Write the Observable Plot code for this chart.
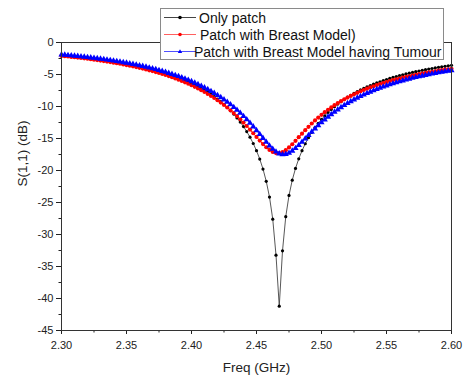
<!DOCTYPE html>
<html>
<head>
<meta charset="utf-8">
<script src="https://cdn.jsdelivr.net/npm/d3@7"></script>
<script src="https://cdn.jsdelivr.net/npm/@observablehq/plot@0.6"></script>
<style>
  body { margin: 0; background: #fff; }
  #wrap { position: relative; width: 463px; height: 376px; font-family: "Liberation Sans", Arial, sans-serif; }
  #legend { position: absolute; left: 160px; top: 8px; width: 284px; height: 52px; box-sizing: border-box;
            border: 1px solid #8a8a8a; background: #fff; }
  .row { position: absolute; left: 0; height: 17px; width: 100%; }
  .row svg { position: absolute; left: 2px; top: 0; }
  .row span { position: absolute; top: 1px; line-height: 17px; font-size: 14px; color: #111; white-space: nowrap; }
</style>
</head>
<body>
<div id="wrap"><div id="chart"></div><div id="legend"></div></div>
<script>
const freq = [2.3,2.3025,2.305,2.3075,2.31,2.3125,2.315,2.3175,2.32,2.3225,2.325,2.3275,2.33,2.3325,2.335,2.3375,2.34,2.3425,2.345,2.3475,
2.35,2.3525,2.355,2.3575,2.36,2.3625,2.365,2.3675,2.37,2.3725,2.375,2.3775,2.38,2.3825,2.385,2.3875,2.39,2.3925,2.395,2.3975,
2.4,2.4025,2.405,2.4075,2.41,2.4125,2.415,2.4175,2.42,2.4225,2.425,2.4275,2.43,2.4325,2.435,2.4375,2.44,2.4425,2.445,2.4475,
2.45,2.4525,2.455,2.4575,2.46,2.4625,2.465,2.4675,2.47,2.4725,2.475,2.4775,2.48,2.4825,2.485,2.4875,2.49,2.4925,2.495,2.4975,
2.5,2.5025,2.505,2.5075,2.51,2.5125,2.515,2.5175,2.52,2.5225,2.525,2.5275,2.53,2.5325,2.535,2.5375,2.54,2.5425,2.545,2.5475,
2.55,2.5525,2.555,2.5575,2.56,2.5625,2.565,2.5675,2.57,2.5725,2.575,2.5775,2.58,2.5825,2.585,2.5875,2.59,2.5925,2.595,2.5975,2.6];

const onlyPatch = [-2.01,-2.05,-2.10,-2.15,-2.20,-2.25,-2.31,-2.36,-2.42,-2.48,-2.55,-2.61,-2.68,-2.75,-2.82,-2.90,-2.98,-3.06,-3.14,-3.23,
-3.32,-3.42,-3.52,-3.62,-3.73,-3.85,-3.97,-4.09,-4.22,-4.36,-4.50,-4.65,-4.81,-4.97,-5.14,-5.32,-5.52,-5.72,-5.93,-6.15,
-6.38,-6.63,-6.89,-7.17,-7.47,-7.78,-8.11,-8.47,-8.84,-9.25,-9.68,-10.15,-10.65,-11.19,-11.78,-12.43,-13.14,-13.92,-14.80,-15.78,
-16.91,-18.22,-19.77,-21.69,-24.16,-27.61,-33.23,-41.2,-32.55,-27.21,-23.89,-21.51,-19.67,-18.17,-16.91,-15.82,-14.88,-14.04,-13.29,-12.62,
-12.01,-11.45,-10.93,-10.46,-10.02,-9.62,-9.24,-8.88,-8.55,-8.24,-7.95,-7.67,-7.41,-7.17,-6.94,-6.72,-6.51,-6.31,-6.13,-5.95,
-5.78,-5.62,-5.46,-5.32,-5.17,-5.04,-4.91,-4.79,-4.67,-4.56,-4.45,-4.35,-4.25,-4.15,-4.06,-3.97,-3.88,-3.80,-3.72,-3.65,-3.57];

const breastModel = [-2.09,-2.14,-2.19,-2.25,-2.30,-2.36,-2.42,-2.48,-2.54,-2.61,-2.68,-2.75,-2.82,-2.90,-2.98,-3.06,-3.15,-3.23,-3.32,-3.42,
-3.52,-3.62,-3.73,-3.84,-3.96,-4.08,-4.20,-4.34,-4.47,-4.62,-4.76,-4.92,-5.08,-5.25,-5.43,-5.61,-5.81,-6.01,-6.22,-6.44,
-6.68,-6.92,-7.18,-7.45,-7.73,-8.03,-8.34,-8.67,-9.02,-9.38,-9.76,-10.16,-10.59,-11.03,-11.50,-12.00,-12.51,-13.05,-13.61,-14.18,
-14.75,-15.32,-15.87,-16.37,-16.79,-17.10,-17.28,-17.29,-17.13,-16.82,-16.40,-15.90,-15.36,-14.80,-14.24,-13.70,-13.17,-12.66,-12.18,-11.73,
-11.30,-10.89,-10.51,-10.14,-9.80,-9.47,-9.17,-8.88,-8.60,-8.34,-8.09,-7.86,-7.63,-7.42,-7.22,-7.02,-6.84,-6.66,-6.49,-6.33,
-6.18,-6.03,-5.89,-5.75,-5.63,-5.50,-5.38,-5.27,-5.16,-5.05,-4.95,-4.85,-4.76,-4.66,-4.58,-4.49,-4.41,-4.33,-4.25,-4.18,-4.11];

const breastTumour = [-1.90,-1.94,-1.99,-2.04,-2.09,-2.14,-2.20,-2.25,-2.31,-2.37,-2.43,-2.49,-2.56,-2.63,-2.70,-2.78,-2.85,-2.93,-3.02,-3.10,
-3.19,-3.29,-3.39,-3.49,-3.59,-3.70,-3.82,-3.94,-4.06,-4.19,-4.33,-4.47,-4.62,-4.78,-4.94,-5.11,-5.28,-5.47,-5.67,-5.87,
-6.08,-6.31,-6.55,-6.79,-7.05,-7.33,-7.61,-7.92,-8.24,-8.57,-8.93,-9.30,-9.70,-10.12,-10.56,-11.02,-11.52,-12.03,-12.58,-13.14,
-13.73,-14.34,-14.95,-15.56,-16.14,-16.65,-17.08,-17.37,-17.50,-17.45,-17.26,-16.94,-16.53,-16.05,-15.54,-15.02,-14.49,-13.96,-13.46,-12.97,
-12.51,-12.06,-11.63,-11.23,-10.85,-10.49,-10.14,-9.81,-9.50,-9.21,-8.93,-8.66,-8.40,-8.16,-7.93,-7.71,-7.50,-7.30,-7.10,-6.92,
-6.74,-6.57,-6.41,-6.25,-6.10,-5.96,-5.82,-5.69,-5.56,-5.44,-5.32,-5.21,-5.10,-4.99,-4.89,-4.79,-4.70,-4.61,-4.52,-4.43,-4.35];

const seriesNames = ["Only patch", "Patch with Breast Model)", "Patch with Breast Model having Tumour"];
const xTicks = [2.30, 2.35, 2.40, 2.45, 2.50, 2.55, 2.60];
const xMinorTicks = [2.325, 2.375, 2.425, 2.475, 2.525, 2.575];
const yTicks = [0, -5, -10, -15, -20, -25, -30, -35, -40, -45];
const yMinorTicks = [-2.5, -7.5, -12.5, -17.5, -22.5, -27.5, -32.5, -37.5, -42.5];
const xTitle = "Freq (GHz)";
const yTitle = "S(1,1) (dB)";

const rows = (vals) => freq.map((f, i) => ({f, s: vals[i]}));
const black = rows(onlyPatch), red = rows(breastModel), blue = rows(breastTumour);

const font = "Liberation Sans, Arial, sans-serif";
const chart = Plot.plot({
  width: 463, height: 376,
  marginLeft: 61, marginRight: 12, marginTop: 42, marginBottom: 46,
  style: {fontFamily: font, fontSize: "11px", color: "#222", background: "#fff"},
  x: {domain: [2.3, 2.6]},
  y: {domain: [-45, 0]},
  marks: [
    Plot.axisX({ticks: xTicks, tickSize: 4, tickPadding: 7, tickFormat: d3.format(".2f"), label: null, fontSize: 11}),
    Plot.axisX({ticks: xMinorTicks, tickSize: 2.5, fill: "none", label: null}),
    Plot.axisY({ticks: yTicks, tickSize: 5, tickPadding: 3, tickFormat: d => String(d), label: null, fontSize: 11}),
    Plot.axisY({ticks: yMinorTicks, tickSize: 2.5, fill: "none", label: null}),
    Plot.text([xTitle], {frameAnchor: "bottom", dy: 41, fontSize: 13.5, fill: "#222"}),
    Plot.text([yTitle], {frameAnchor: "left", dx: -39, rotate: -90, fontSize: 13.5, fill: "#222"}),
    Plot.line(black, {x: "f", y: "s", stroke: "#444", strokeWidth: 0.9}),
    Plot.dot(black, {x: "f", y: "s", r: 1.6, fill: "#000", stroke: "none"}),
    Plot.line(red, {x: "f", y: "s", stroke: "#ff0000", strokeWidth: 1}),
    Plot.dot(red, {x: "f", y: "s", r: 2.1, fill: "#ff0000", stroke: "none"}),
    Plot.line(blue, {x: "f", y: "s", stroke: "#0000ff", strokeWidth: 1}),
    Plot.dot(blue, {x: "f", y: "s", r: 2.3, symbol: "triangle", fill: "#0000ff", stroke: "none"}),
    Plot.frame({stroke: "#333", strokeWidth: 1})
  ]
});
document.getElementById("chart").appendChild(chart);

// legend
const legendSpec = [
  {name: seriesNames[0], color: "#444", marker: "circle", mcolor: "#000", top: 0, textLeft: 38},
  {name: seriesNames[1], color: "#ff6060", marker: "circle", mcolor: "#ff0000", top: 17, textLeft: 39},
  {name: seriesNames[2], color: "#5050ff", marker: "triangle", mcolor: "#0000ff", top: 34, textLeft: 33}
];
const legend = document.getElementById("legend");
for (const it of legendSpec) {
  const row = document.createElement("div");
  row.className = "row";
  row.style.top = it.top + "px";
  const m = it.marker === "circle"
    ? `<circle cx="17" cy="8.5" r="1.8" fill="${it.mcolor}"/>`
    : `<path d="M17,6.2 L19.2,10 L14.8,10 Z" fill="${it.mcolor}"/>`;
  row.innerHTML = `<svg width="34" height="17"><line x1="1" x2="33" y1="8.5" y2="8.5" stroke="${it.color}" stroke-width="1"/>${m}</svg><span style="left:${it.textLeft}px">${it.name}</span>`;
  legend.appendChild(row);
}
</script>
</body>
</html>
